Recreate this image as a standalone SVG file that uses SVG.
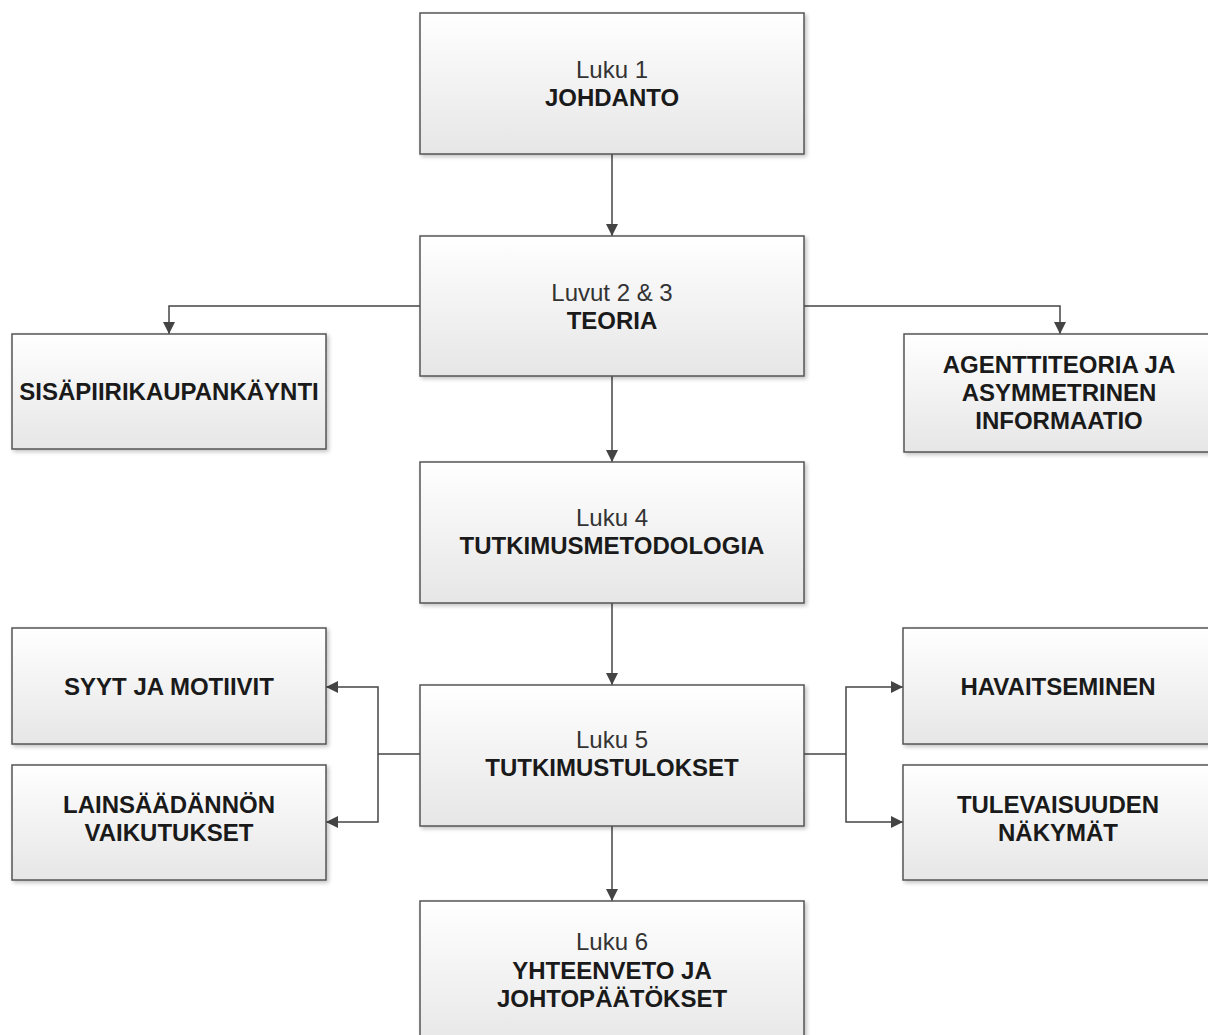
<svg xmlns="http://www.w3.org/2000/svg" width="1208" height="1035" viewBox="0 0 1208 1035">
<defs>
<linearGradient id="g" x1="0" y1="0" x2="0" y2="1">
<stop offset="0" stop-color="#ffffff"/>
<stop offset="1" stop-color="#e6e6e6"/>
</linearGradient>
<filter id="sh" x="-5%" y="-5%" width="112%" height="115%">
<feGaussianBlur in="SourceAlpha" stdDeviation="2"/>
<feOffset dx="2" dy="2" result="b"/>
<feComponentTransfer><feFuncA type="linear" slope="0.25"/></feComponentTransfer>
<feMerge><feMergeNode/><feMergeNode in="SourceGraphic"/></feMerge>
</filter>
<marker id="ah" viewBox="0 0 10 10" refX="10" refY="5" markerWidth="12" markerHeight="12" markerUnits="userSpaceOnUse" orient="auto">
<path d="M0,0 L10,5 L0,10 Z" fill="#444"/>
</marker>
</defs>
<style>
.box{fill:url(#g);stroke:#555;stroke-width:1.5;filter:url(#sh)}
.n{font-family:"Liberation Sans",Arial,sans-serif;font-size:24px;fill:#333;text-anchor:middle}
.b{font-family:"Liberation Sans",Arial,sans-serif;font-size:24px;font-weight:bold;fill:#1a1a1a;text-anchor:middle}
.c{fill:none;stroke:#444;stroke-width:1.5;marker-end:url(#ah)}
.l{fill:none;stroke:#444;stroke-width:1.5}
</style>
<rect width="1208" height="1035" fill="#fff"/>
<g id="connectors">
<path class="c" d="M612,154 V236"/>
<path class="c" d="M420,306 H169 V334"/>
<path class="c" d="M804,306 H1060 V334"/>
<path class="c" d="M612,376 V462"/>
<path class="c" d="M612,603 V685"/>
<path class="l" d="M420,754 H378"/>
<path class="c" d="M378,754 V687 H326"/>
<path class="c" d="M378,754 V822 H326"/>
<path class="l" d="M804,754 H846"/>
<path class="c" d="M846,754 V687 H903"/>
<path class="c" d="M846,754 V822 H903"/>
<path class="c" d="M612,826 V901"/>
</g>
<g id="n1"><rect class="box" x="420" y="13" width="384" height="141"/><text class="n" x="612" y="78">Luku 1</text><text class="b" x="612" y="106">JOHDANTO</text></g>
<g id="n2"><rect class="box" x="420" y="236" width="384" height="140"/><text class="n" x="612" y="301">Luvut 2 &amp; 3</text><text class="b" x="612" y="329">TEORIA</text></g>
<g id="n3"><rect class="box" x="12" y="334" width="314" height="115"/><text class="b" x="169" y="400">SISÄPIIRIKAUPANKÄYNTI</text></g>
<g id="n4"><rect class="box" x="904" y="334" width="310" height="118"/><text class="b" x="1059" y="373">AGENTTITEORIA JA</text><text class="b" x="1059" y="401">ASYMMETRINEN</text><text class="b" x="1059" y="429">INFORMAATIO</text></g>
<g id="n5"><rect class="box" x="420" y="462" width="384" height="141"/><text class="n" x="612" y="526">Luku 4</text><text class="b" x="612" y="554">TUTKIMUSMETODOLOGIA</text></g>
<g id="n6"><rect class="box" x="12" y="628" width="314" height="116"/><text class="b" x="169" y="695">SYYT JA MOTIIVIT</text></g>
<g id="n7"><rect class="box" x="12" y="765" width="314" height="115"/><text class="b" x="169" y="813">LAINSÄÄDÄNNÖN</text><text class="b" x="169" y="841">VAIKUTUKSET</text></g>
<g id="n8"><rect class="box" x="420" y="685" width="384" height="141"/><text class="n" x="612" y="748">Luku 5</text><text class="b" x="612" y="776">TUTKIMUSTULOKSET</text></g>
<g id="n9"><rect class="box" x="903" y="628" width="311" height="116"/><text class="b" x="1058" y="695">HAVAITSEMINEN</text></g>
<g id="n10"><rect class="box" x="903" y="765" width="311" height="115"/><text class="b" x="1058" y="813">TULEVAISUUDEN</text><text class="b" x="1058" y="841">NÄKYMÄT</text></g>
<g id="n11"><rect class="box" x="420" y="901" width="384" height="150"/><text class="n" x="612" y="950">Luku 6</text><text class="b" x="612" y="979">YHTEENVETO JA</text><text class="b" x="612" y="1007">JOHTOPÄÄTÖKSET</text></g>
</svg>
